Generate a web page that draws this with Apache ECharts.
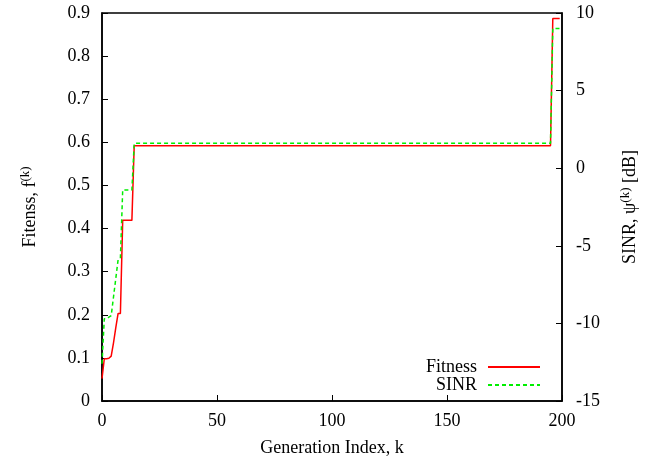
<!DOCTYPE html>
<html>
<head>
<meta charset="utf-8">
<script src="https://cdn.jsdelivr.net/npm/echarts@6/dist/echarts.min.js"></script>
<style>
  html, body { margin: 0; padding: 0; background: #fff; }
  #chart { width: 657px; height: 465px; }
</style>
</head>
<body>
<div id="chart"></div>
<script>
// Generation indices where the best individual changes
const fitnessGen = [0, 1, 2, 3, 4, 5, 6, 7, 8, 9, 13, 14, 195, 196, 199];
const fitnessVal = [0.052, 0.098, 0.098, 0.099, 0.104, 0.135, 0.17, 0.203, 0.203, 0.419, 0.419, 0.592, 0.592, 0.887, 0.887];

const sinrGen = [0, 1, 2, 3, 4, 5, 6, 7, 8, 9, 13, 14, 195, 196, 199];
const sinrVal = [-12.6, -9.7, -9.7, -9.6, -9.5, -8.3, -7.1, -5.9, -5.8, -1.4, -1.4, 1.6, 1.6, 9.0, 9.0];

const seriesNames = ['Fitness', 'SINR'];

const FONT = 'Liberation Serif';
const FS = 18;

const pairs = (xs, ys) => xs.map((x, i) => [x, ys[i]]);

const supStyle = { fontFamily: FONT, fontSize: 13, color: '#000', verticalAlign: 'top', padding: [0, 0, 9, 0] };

const axisCommon = {
  axisLine: { show: true, lineStyle: { color: '#000', width: 1.5 } },
  axisTick: { show: true, inside: true, length: 6, lineStyle: { color: '#000', width: 1 } },
  axisLabel: { color: '#000', fontFamily: FONT, fontSize: FS, margin: 12 },
  splitLine: { show: false },
  nameTextStyle: { color: '#000', fontFamily: FONT, fontSize: FS }
};

const chart = echarts.init(document.getElementById('chart'), null, { renderer: 'canvas' });

chart.setOption({
  animation: false,
  backgroundColor: '#fff',
  grid: { left: 102, right: 95, top: 13, bottom: 64, show: true, borderColor: '#000', borderWidth: 1.5 },
  legend: {
    orient: 'vertical',
    right: 111,
    bottom: 66,
    align: 'right',
    itemWidth: 52,
    itemHeight: 10,
    itemGap: 0,
    itemStyle: { opacity: 0 },
    textStyle: { color: '#000', fontFamily: FONT, fontSize: FS, lineHeight: 18, padding: [0, 6, 0, 0] },
    data: seriesNames
  },
  xAxis: Object.assign({}, axisCommon, {
    type: 'value',
    min: 0, max: 200, interval: 50,
    name: 'Generation Index, k',
    nameLocation: 'middle',
    nameGap: 38,
    axisLabel: { color: '#000', fontFamily: FONT, fontSize: FS, margin: 11 }
  }),
  yAxis: [
    Object.assign({}, axisCommon, {
      type: 'value',
      position: 'left',
      min: 0, max: 0.9, interval: 0.1,
      name: 'Fitenss, f{sup|(k)}',
      nameLocation: 'middle',
      nameRotate: 90,
      nameGap: 61,
      nameTextStyle: { color: '#000', fontFamily: FONT, fontSize: FS, rich: { sup: supStyle } },
      axisLabel: { color: '#000', fontFamily: FONT, fontSize: FS, margin: 12,
        formatter: v => (v === 0 ? '0' : v.toFixed(1)) }
    }),
    Object.assign({}, axisCommon, {
      type: 'value',
      position: 'right',
      min: -15, max: 10, interval: 5,
      name: 'SINR, \u03C8{sup|(k)} [dB]',
      nameLocation: 'middle',
      nameRotate: 90,
      nameGap: 57,
      nameTextStyle: { color: '#000', fontFamily: FONT, fontSize: FS, rich: { sup: supStyle } },
      axisLabel: { color: '#000', fontFamily: FONT, fontSize: FS, margin: 14 }
    })
  ],
  series: [
    {
      name: seriesNames[0],
      type: 'line',
      yAxisIndex: 0,
      data: pairs(fitnessGen, fitnessVal),
      symbol: 'none',
      lineStyle: { color: '#ff0000', width: 1.5 },
      itemStyle: { color: '#ff0000' }
    },
    {
      name: seriesNames[1],
      type: 'line',
      yAxisIndex: 1,
      data: pairs(sinrGen, sinrVal),
      symbol: 'none',
      lineStyle: { color: '#00ee00', width: 1.5, type: [4, 3] },
      itemStyle: { color: '#00ee00' }
    }
  ]
});
</script>
</body>
</html>
